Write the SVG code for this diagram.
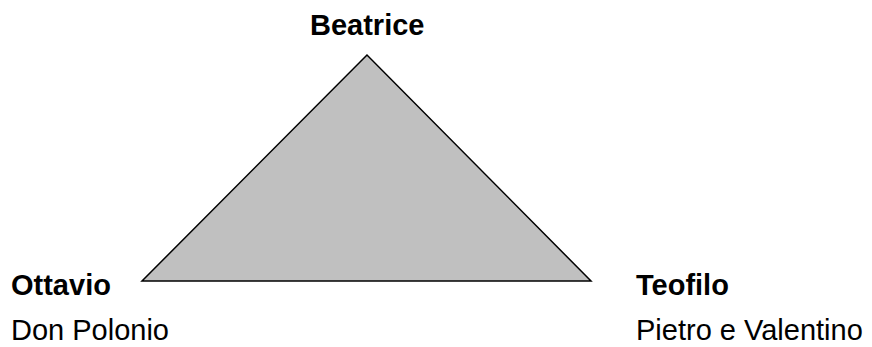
<svg xmlns="http://www.w3.org/2000/svg" width="872" height="347" viewBox="0 0 872 347">
<style>
text{font-family:"Liberation Sans",Arial,sans-serif;font-size:29px;fill:#000}
.b{font-weight:bold}
</style>
<rect width="872" height="347" fill="#fff"/>
<g id="connectors">
<polygon points="367,55 142,281 591,281" fill="#c0c0c0" stroke="#000" stroke-width="1.5"/>
</g>
<g id="beatrice"><text class="b" x="310" y="35">Beatrice</text></g>
<g id="ottavio"><text class="b" x="11" y="295">Ottavio</text><text x="11" y="340">Don Polonio</text></g>
<g id="teofilo"><text class="b" x="636" y="295">Teofilo</text><text x="636" y="340">Pietro e Valentino</text></g>
</svg>
